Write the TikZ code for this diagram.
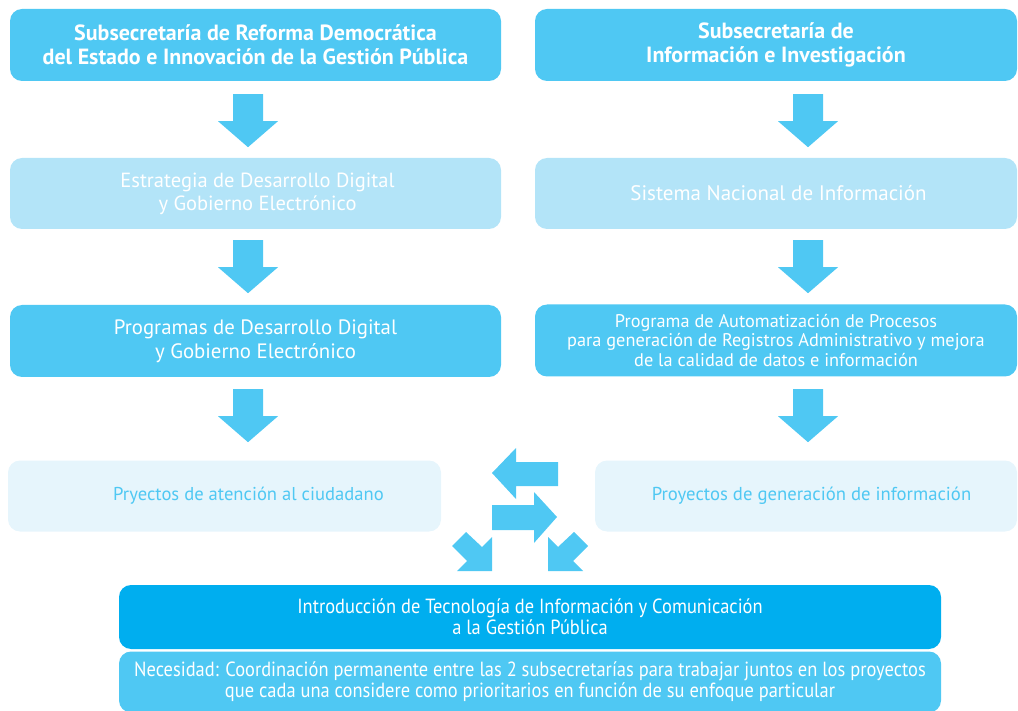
\documentclass[tikz,border=0pt]{standalone}
\usepackage{fontspec}
\setmainfont{PT Sans}
\newfontfamily\condfont[FakeStretch=0.9]{PT Sans}
\usetikzlibrary{calc}
\definecolor{midblue}{HTML}{4FC8F3}
\definecolor{lightblue}{HTML}{B3E4F8}
\definecolor{paleblue}{HTML}{E6F5FC}
\definecolor{deepblue}{HTML}{00AEEF}
\begin{document}
\begin{tikzpicture}[x=1pt,y=-1pt,
  box/.style={rounded corners=12pt, inner sep=0pt, align=center, text=white},
  darkbox/.style={box, fill=midblue},
  lightbox/.style={box, fill=lightblue},
  palebox/.style={box, fill=paleblue, text=midblue},
  blockarrow/.style={fill=midblue},
  pics/darr/.style={code={\fill[blockarrow] (-15,0) -- (15,0) -- (15,27) -- (30,27) -- (0,53) -- (-30,27) -- (-15,27) -- cycle;}}
]
\useasboundingbox (0,0) rectangle (1018,711);

% top row
\node[darkbox, minimum width=491pt, minimum height=72pt, font=\bfseries\fontsize{22}{24}\selectfont] (A) at (255.5,45)
  {Subsecretaría de Reforma Democrática\\del Estado e Innovación de la Gestión Pública};
\node[darkbox, minimum width=482pt, minimum height=72pt, font=\bfseries\fontsize{22}{24}\selectfont] (B) at (776,45)
  {Subsecretaría de\\Información e Investigación};

% second row
\node[lightbox, minimum width=491pt, minimum height=71pt, font=\fontsize{20.5}{23}\selectfont] (C) at (255.5,193.5)
  {\hspace*{4pt}Estrategia de Desarrollo Digital\\\hspace*{4pt}y Gobierno Electrónico};
\node[lightbox, minimum width=482pt, minimum height=71pt, font=\fontsize{21}{23}\selectfont] (D) at (776,193.5)
  {\hspace*{5pt}Sistema Nacional de Información};

% third row
\node[darkbox, minimum width=491pt, minimum height=72pt, font=\fontsize{20.8}{24}\selectfont] (E) at (255.5,341)
  {Programas de Desarrollo Digital\\y Gobierno Electrónico};
\node[darkbox, minimum width=482pt, minimum height=72pt, font=\fontsize{18.3}{19.5}\selectfont] (F) at (776,340.5)
  {Programa de Automatización de Procesos\\para generación de Registros Administrativo y mejora\\de la calidad de datos e información};

% fourth row
\node[palebox, minimum width=433pt, minimum height=71pt, font=\fontsize{18.6}{20}\selectfont] (G) at (224.5,496)
  {\hspace*{48pt}Pryectos de atención al ciudadano};
\node[palebox, minimum width=422pt, minimum height=71pt, font=\fontsize{18.7}{20}\selectfont] (H) at (806,496)
  {\hspace*{11pt}Proyectos de generación de información};

% bottom
\node[box, fill=deepblue, minimum width=822pt, minimum height=64pt, font=\condfont\fontsize{20.5}{21}\selectfont] (I) at (530,617)
  {Introducción de Tecnología de Información y Comunicación\\a la Gestión Pública};
\node[box, fill=midblue, minimum width=822pt, minimum height=61pt, font=\condfont\fontsize{20.5}{21}\selectfont] (J) at (530,682)
  {Necesidad: Coordinación permanente entre las 2 subsecretarías para trabajar juntos en los proyectos\\que cada una considere como prioritarios en función de su enfoque particular};

% vertical block arrows
\pic at ($(A.south)+(-7.5,13)$) {darr};
\pic at ($(B.south)+(32,13)$) {darr};
\pic at ($(C.south)+(-7.5,11)$) {darr};
\pic at ($(D.south)+(32,11)$) {darr};
\pic at ($(E.south)+(-7.5,12)$) {darr};
\pic at ($(F.south)+(32,12.5)$) {darr};

% central exchange arrows
\fill[blockarrow] (492,473) -- (516,448) -- (516,462) -- (558,462) -- (558,486) -- (516,486) -- (516,499) -- cycle;
\fill[blockarrow] (492,505) -- (534,505) -- (534,492) -- (557,517) -- (534,543) -- (534,530) -- (492,530) -- cycle;
\fill[blockarrow] (492,537) -- (482,547) -- (466,532) -- (452,546) -- (467,561) -- (457,571) -- (492,571) -- cycle;
\fill[blockarrow] (548,537) -- (558,547) -- (574,532) -- (588,546) -- (573,561) -- (583,571) -- (548,571) -- cycle;
\end{tikzpicture}
\end{document}
